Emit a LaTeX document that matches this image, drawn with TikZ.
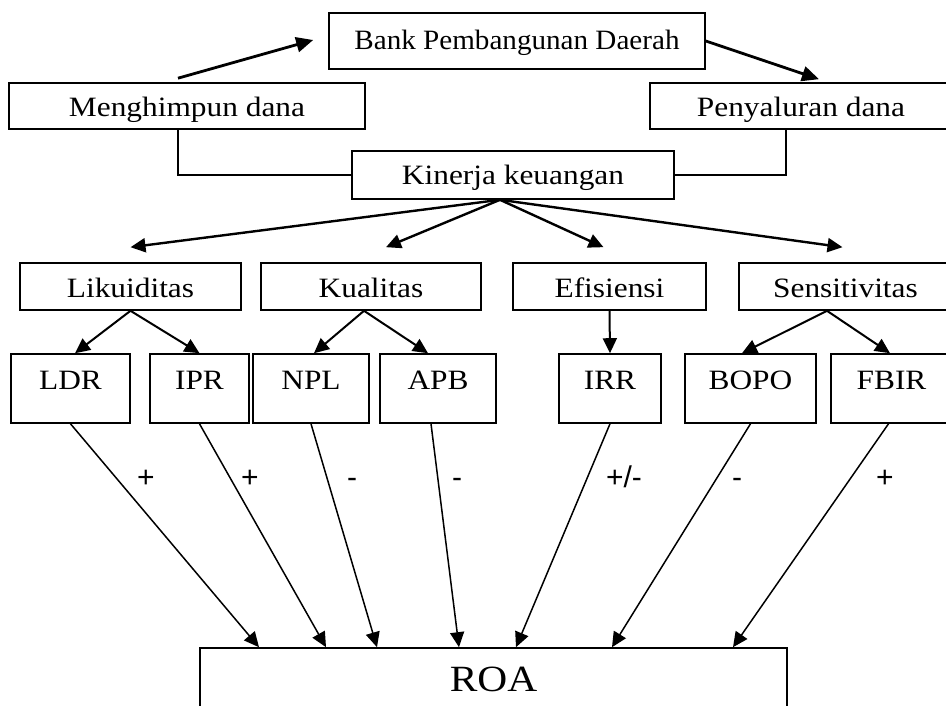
\documentclass[tikz,border=0pt]{standalone}
\usepackage{fontspec}
\setmainfont{Liberation Serif}[FakeStretch=1.12]
\newfontfamily\bankfont{Liberation Serif}[FakeStretch=1.04]
\newfontfamily\tandafont{Liberation Sans}
\usetikzlibrary{arrows.meta}

\tikzset{
  kotak/.style={draw, rectangle, line width=1.6pt, inner sep=0pt,
    font=\fontsize{28pt}{32pt}\selectfont},
  panah/.style={-{Triangle[length=15pt,width=14pt]}, line width=#1},
  panah/.default=2pt,
  tanda/.style={anchor=base, inner sep=0pt, font=\tandafont\fontsize{30pt}{34pt}\selectfont}
}

\begin{document}
\begin{tikzpicture}[x=1pt, y=-1pt]
\useasboundingbox (0,0) rectangle (946,706);
\clip (0,0) rectangle (946,706);

% top level
\node[kotak, minimum width=376pt, text height=37pt, text depth=19pt, font=\bankfont\fontsize{28pt}{32pt}\selectfont] (bank) at (517,41) {Bank Pembangunan Daerah};
\node[kotak, minimum width=356pt, text height=34pt, text depth=12pt] (menghimpun) at (187,106) {Menghimpun dana};
\node[kotak, minimum width=302pt, text height=34pt, text depth=12pt] (penyaluran) at (801,106) {Penyaluran dana};
\node[kotak, minimum width=322pt, text height=34pt, text depth=14pt] (kinerja) at (513,175) {Kinerja keuangan};

\draw[panah=2.8pt, -{Triangle[length=17pt,width=15pt]}] ([xshift=-9pt,yshift=4pt]menghimpun.north) -- ([xshift=-15pt,yshift=1pt]bank.west);
\draw[panah=2.8pt, -{Triangle[length=17pt,width=15pt]}] (bank.east) -- ([xshift=18pt,yshift=3pt]penyaluran.north);
\draw[line width=1.6pt] ([xshift=-9pt]menghimpun.south) |- (kinerja.west);
\draw[line width=1.6pt] ([xshift=-15pt]penyaluran.south) |- (kinerja.east);

% rasio
\node[kotak, minimum width=221pt, text height=35pt, text depth=12pt] (likuiditas) at (130.5,286.5) {Likuiditas};
\node[kotak, minimum width=220pt, text height=35pt, text depth=12pt] (kualitas) at (371,286.5) {Kualitas};
\node[kotak, minimum width=193pt, text height=35pt, text depth=12pt] (efisiensi) at (609.5,286.5) {Efisiensi};
\node[kotak, minimum width=213pt, text height=35pt, text depth=12pt] (sensitivitas) at (845.5,286.5) {Sensitivitas};

\draw[panah=2.4pt] ([xshift=-13pt]kinerja.south) -- ([yshift=15pt]likuiditas.north);
\draw[panah=2.4pt] ([xshift=-13pt]kinerja.south) -- ([xshift=15pt,yshift=15pt]kualitas.north);
\draw[panah=2.4pt] ([xshift=-13pt]kinerja.south) -- ([xshift=-6pt,yshift=15pt]efisiensi.north);
\draw[panah=2.4pt] ([xshift=-13pt]kinerja.south) -- ([xshift=-3pt,yshift=15pt]sensitivitas.north);

% variabel
\node[kotak, minimum width=119pt, text height=35pt, text depth=34pt] (ldr) at (70.5,388.5) {LDR};
\node[kotak, minimum width=99pt, text height=35pt, text depth=34pt] (ipr) at (199.5,388.5) {IPR};
\node[kotak, minimum width=116pt, text height=35pt, text depth=34pt] (npl) at (311,388.5) {NPL};
\node[kotak, minimum width=116pt, text height=35pt, text depth=34pt] (apb) at (438,388.5) {APB};
\node[kotak, minimum width=102pt, text height=35pt, text depth=34pt] (irr) at (610,388.5) {IRR};
\node[kotak, minimum width=131pt, text height=35pt, text depth=34pt] (bopo) at (750.5,388.5) {BOPO};
\node[kotak, minimum width=121pt, text height=35pt, text depth=34pt] (fbir) at (891.5,388.5) {FBIR};

\draw[panah] (likuiditas.south) -- ([xshift=4.5pt]ldr.north);
\draw[panah] (likuiditas.south) -- (ipr.north);
\draw[panah] ([xshift=-7pt]kualitas.south) -- ([xshift=3pt]npl.north);
\draw[panah] ([xshift=-7pt]kualitas.south) -- ([xshift=-10pt]apb.north);
\draw[panah] (efisiensi.south) -- (irr.north);
\draw[panah] ([xshift=-18.5pt]sensitivitas.south) -- ([xshift=-8.5pt]bopo.north);
\draw[panah] ([xshift=-18.5pt]sensitivitas.south) -- ([xshift=-1.5pt]fbir.north);

% ROA
\node[kotak, minimum width=587pt, text height=43pt, text depth=19pt, font=\fontsize{37pt}{40pt}\selectfont] (roa) at (493.5,679) {ROA};

\draw[panah=1.5pt] (ldr.south) -- ([xshift=-234.5pt]roa.north);
\draw[panah=1.5pt] (ipr.south) -- ([xshift=-167.5pt]roa.north);
\draw[panah=1.5pt] (npl.south) -- ([xshift=-116.5pt]roa.north);
\draw[panah=1.5pt] ([xshift=-7pt]apb.south) -- ([xshift=-34.5pt]roa.north);
\draw[panah=1.5pt] (irr.south) -- ([xshift=22.5pt]roa.north);
\draw[panah=1.5pt] (bopo.south) -- ([xshift=118.5pt]roa.north);
\draw[panah=1.5pt] ([xshift=-3pt]fbir.south) -- ([xshift=239.5pt]roa.north);

\node[tanda] (t1) at (146,487) {+};
\node[tanda] (t2) at (250,487) {+};
\node[tanda] (t3) at (352,487) {-};
\node[tanda] (t4) at (457,487) {-};
\node[tanda] (t5) at (624,487) {+/-};
\node[tanda] (t6) at (737,487) {-};
\node[tanda] (t7) at (885,487) {+};

\end{tikzpicture}
\end{document}
